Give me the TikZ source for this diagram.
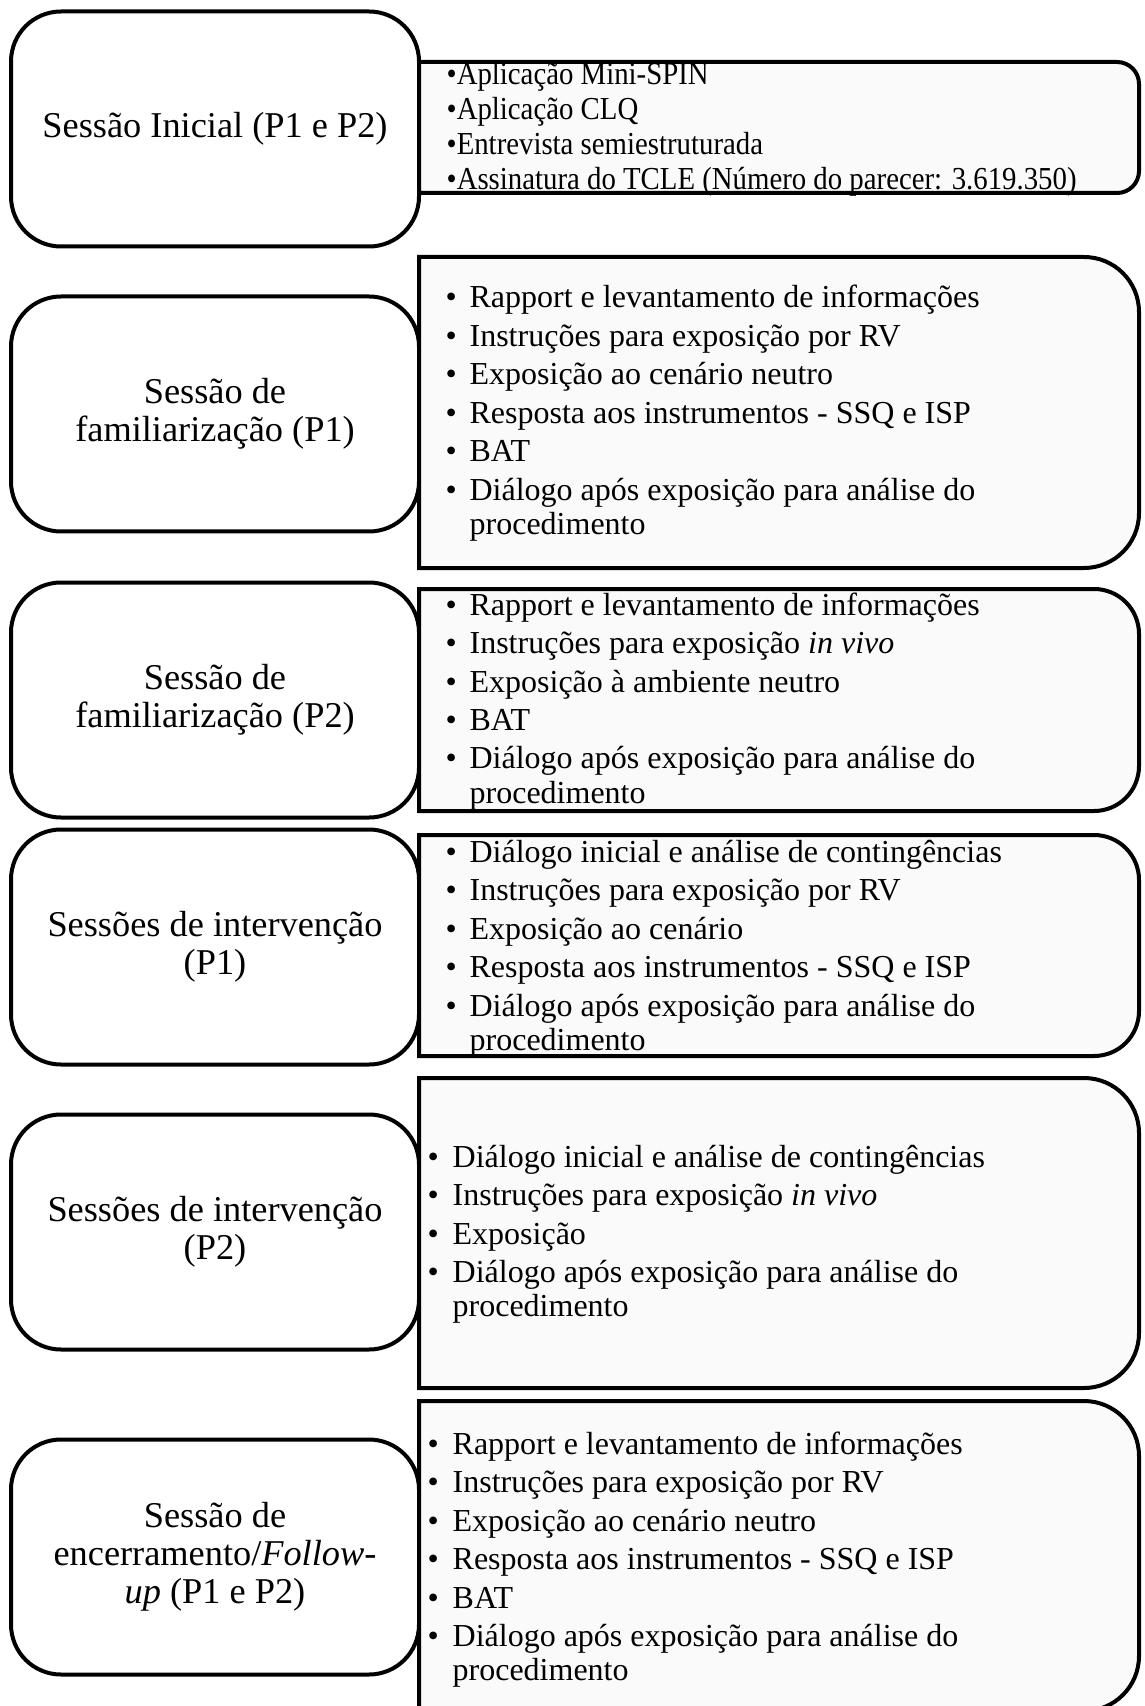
\documentclass[tikz,border=0pt]{standalone}
\usepackage{fontspec}
\setmainfont{Liberation Serif}
\newfontfamily\narrowfont[FakeStretch=0.9]{Liberation Serif}
\usetikzlibrary{positioning}

% one bullet item, later lines hang under the text
\newcommand{\bitem}[2][7.2pt]{\par\hangindent=#1\hangafter=1\noindent\makebox[#1][l]{\textbullet}#2}
% box on the right: square on the left, rounded on the right
\newcommand{\sidebox}[3]{%
  \draw[sidebox] (419,-#1) -- ({1139-#3},-#1) arc[start angle=90, end angle=0, radius=#3]
    -- (1139,{-#2+#3}) arc[start angle=0, end angle=-90, radius=#3] -- (419,-#2) -- cycle;}

\begin{document}
\begin{tikzpicture}[
    x=0.3pt, y=0.3pt,
    leftbox/.style={draw, line width=1.2pt, rounded corners=15pt, fill=white,
        minimum width=122.4pt, minimum height=70.5pt, inner sep=0pt,
        align=center, font=\fontsize{10.9}{11.4}\selectfont},
    sidebox/.style={draw, line width=1.2pt, fill=black!2},
    items/.style={anchor=base west, inner sep=0pt}
]
    \clip (0,0) rectangle (1144,-1706);

    % sessions
    \node[leftbox] (inicial) at (215,-129) {Sessão Inicial (P1 e P2)};
    \node[leftbox] (famp1) at (215,-414) {Sessão de\\familiarização (P1)};
    \node[leftbox] (famp2) at (215,-700) {Sessão de\\familiarização (P2)};
    \node[leftbox] (intp1) at (215,-947) {Sessões de intervenção\\(P1)};
    \node[leftbox] (intp2) at (215,-1232) {Sessões de intervenção\\(P2)};
    \node[leftbox] (encerr) at (215,-1557) {Sessão de\\encerramento/\textit{Follow-}\\\textit{up} (P1 e P2)};

    % activity boxes
    \sidebox{62}{193}{22}
    \sidebox{257}{568}{55}
    \sidebox{589}{811}{45}
    \sidebox{835}{1056}{45}
    \sidebox{1078}{1388}{55}
    \sidebox{1401}{1711}{55}

    % activities
    \node[items] (inicialitens) at (446,-85) {\parbox[t]{240pt}{\narrowfont\fontsize{9.6}{10.5}\selectfont
        \textbullet Aplicação Mini-SPIN\\
        \textbullet Aplicação CLQ\\
        \textbullet Entrevista semiestruturada\\
        \textbullet Assinatura do TCLE (Número do parecer: 3.619.350)}};

    \node[items] (famp1itens) at (445,-308) {\parbox[t]{240pt}{\fontsize{9.6}{11.55}\selectfont
        \bitem{Rapport e levantamento de informações}
        \bitem{Instruções para exposição por RV}
        \bitem{Exposição ao cenário neutro}
        \bitem{Resposta aos instrumentos - SSQ e ISP}
        \bitem{BAT}
        \bitem{Diálogo após exposição para análise do\\[-1.35pt]procedimento}}};

    \node[items] (famp2itens) at (445,-615) {\parbox[t]{240pt}{\fontsize{9.6}{11.55}\selectfont
        \bitem{Rapport e levantamento de informações}
        \bitem{Instruções para exposição \textit{in vivo}}
        \bitem{Exposição à ambiente neutro}
        \bitem{BAT}
        \bitem{Diálogo após exposição para análise do\\[-1.35pt]procedimento}}};

    \node[items] (intp1itens) at (445,-862) {\parbox[t]{240pt}{\fontsize{9.6}{11.55}\selectfont
        \bitem{Diálogo inicial e análise de contingências}
        \bitem{Instruções para exposição por RV}
        \bitem{Exposição ao cenário}
        \bitem{Resposta aos instrumentos - SSQ e ISP}
        \bitem{Diálogo após exposição para análise do\\[-1.35pt]procedimento}}};

    \node[items] (intp2itens) at (427,-1167) {\parbox[t]{240pt}{\fontsize{9.6}{11.55}\selectfont
        \bitem[7.5pt]{Diálogo inicial e análise de contingências}
        \bitem[7.5pt]{Instruções para exposição \textit{in vivo}}
        \bitem[7.5pt]{Exposição}
        \bitem[7.5pt]{Diálogo após exposição para análise do\\[-1.35pt]procedimento}}};

    \node[items] (encerritens) at (427,-1454) {\parbox[t]{240pt}{\fontsize{9.6}{11.55}\selectfont
        \bitem[7.5pt]{Rapport e levantamento de informações}
        \bitem[7.5pt]{Instruções para exposição por RV}
        \bitem[7.5pt]{Exposição ao cenário neutro}
        \bitem[7.5pt]{Resposta aos instrumentos - SSQ e ISP}
        \bitem[7.5pt]{BAT}
        \bitem[7.5pt]{Diálogo após exposição para análise do\\[-1.35pt]procedimento}}};
\end{tikzpicture}
\end{document}
